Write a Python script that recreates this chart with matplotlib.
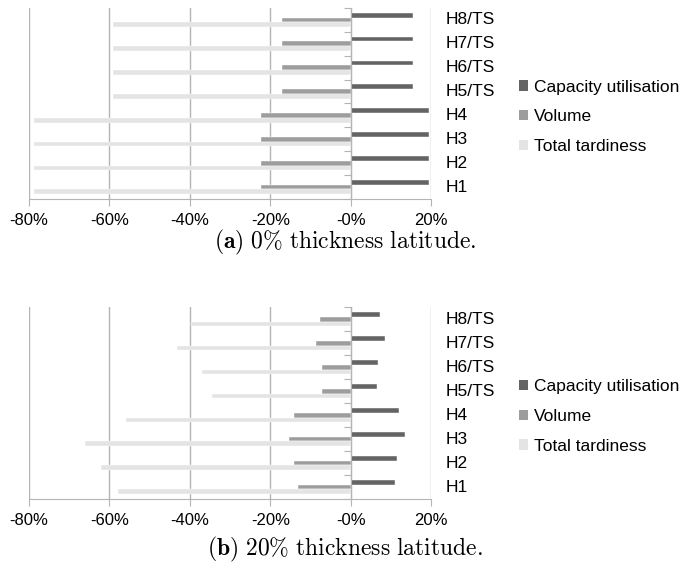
import numpy as np
import matplotlib
matplotlib.use('Agg')
import matplotlib.pyplot as plt
import matplotlib.transforms as mtransforms
from matplotlib.patches import Patch
from matplotlib.ticker import PercentFormatter

# categories, bottom to top
heuristics = ['H1', 'H2', 'H3', 'H4', 'H5/TS', 'H6/TS', 'H7/TS', 'H8/TS']

# (a) 0% thickness latitude
cap_a = [0.195, 0.195, 0.195, 0.195, 0.155, 0.155, 0.155, 0.155]
vol_a = [-0.222, -0.222, -0.222, -0.222, -0.17, -0.17, -0.17, -0.17]
tard_a = [-0.788, -0.788, -0.788, -0.788, -0.592, -0.592, -0.592, -0.592]

# (b) 20% thickness latitude
cap_b = [0.111, 0.115, 0.134, 0.12, 0.064, 0.067, 0.084, 0.073]
vol_b = [-0.132, -0.141, -0.154, -0.14, -0.072, -0.071, -0.086, -0.077]
tard_b = [-0.578, -0.622, -0.661, -0.56, -0.344, -0.37, -0.431, -0.397]

series_names = ['Capacity utilisation', 'Volume', 'Total tardiness']
colors = ['#646464', '#9d9d9d', '#e4e4e4']
captions = [r'$\mathbf{(a)}\ \mathrm{0\%\ thickness\ latitude.}$',
            r'$\mathbf{(b)}\ \mathrm{20\%\ thickness\ latitude.}$']

plt.rcParams['font.family'] = ['Liberation Sans', 'DejaVu Sans']
plt.rcParams['mathtext.fontset'] = 'cm'
plt.rcParams['axes.unicode_minus'] = False

fig = plt.figure(figsize=(6.9, 5.71), dpi=100)
ax_a = fig.add_axes([0.042, 0.6515, 0.583, 0.3345])
ax_b = fig.add_axes([0.042, 0.126, 0.583, 0.336])

grid_col = '#b4b4b4'
fs = 12.5
y = np.arange(len(heuristics))
h = 0.2

for ax, data, cap, cy in [(ax_a, (cap_a, vol_a, tard_a), captions[0], 0.576),
                          (ax_b, (cap_b, vol_b, tard_b), captions[1], 0.038)]:
    offsets = [h, 0, -h]
    for vals, off, c in zip(data, offsets, colors):
        ax.barh(y + off, vals, height=h, color=c, edgecolor='white', linewidth=0.3, zorder=3)

    ax.set_xlim(-0.8, 0.2)
    ax.set_ylim(-0.5, len(heuristics) - 0.5)
    ax.set_xticks(np.arange(-0.8, 0.21, 0.2))
    ax.xaxis.set_major_formatter(PercentFormatter(1.0, decimals=0))
    ax.xaxis.grid(True, color=grid_col, linewidth=1.0, zorder=0)
    ax.tick_params(axis='x', direction='out', length=5, color=grid_col, labelsize=12, pad=5)

    # category axis sits on zero
    ax.spines['left'].set_position(('data', 0))
    ax.spines['left'].set_color(grid_col)
    ax.spines['left'].set_zorder(4)
    ax.set_yticks(np.arange(-0.5, len(heuristics), 1.0))
    ax.set_yticklabels([])
    ax.tick_params(axis='y', direction='out', length=5, color=grid_col)
    ax.spines['top'].set_visible(False)
    ax.spines['right'].set_visible(False)
    ax.spines['bottom'].set_color(grid_col)

    trans = mtransforms.blended_transform_factory(ax.transAxes, ax.transData)
    for yi, lab in zip(y, heuristics):
        ax.text(1.035, yi, lab, transform=trans, va='center', ha='left', fontsize=fs)

    handles = [Patch(facecolor=c, edgecolor='none') for c in colors]
    ax.legend(handles, series_names, loc='center left', bbox_to_anchor=(1.2, 0.43),
              frameon=False, fontsize=fs, handlelength=0.55, handleheight=0.55,
              handletextpad=0.35, labelspacing=0.85, borderaxespad=0)

    fig.text(0.5, cy, cap, ha='center', va='center', fontsize=17)

fig.savefig('out.png', dpi=100)
